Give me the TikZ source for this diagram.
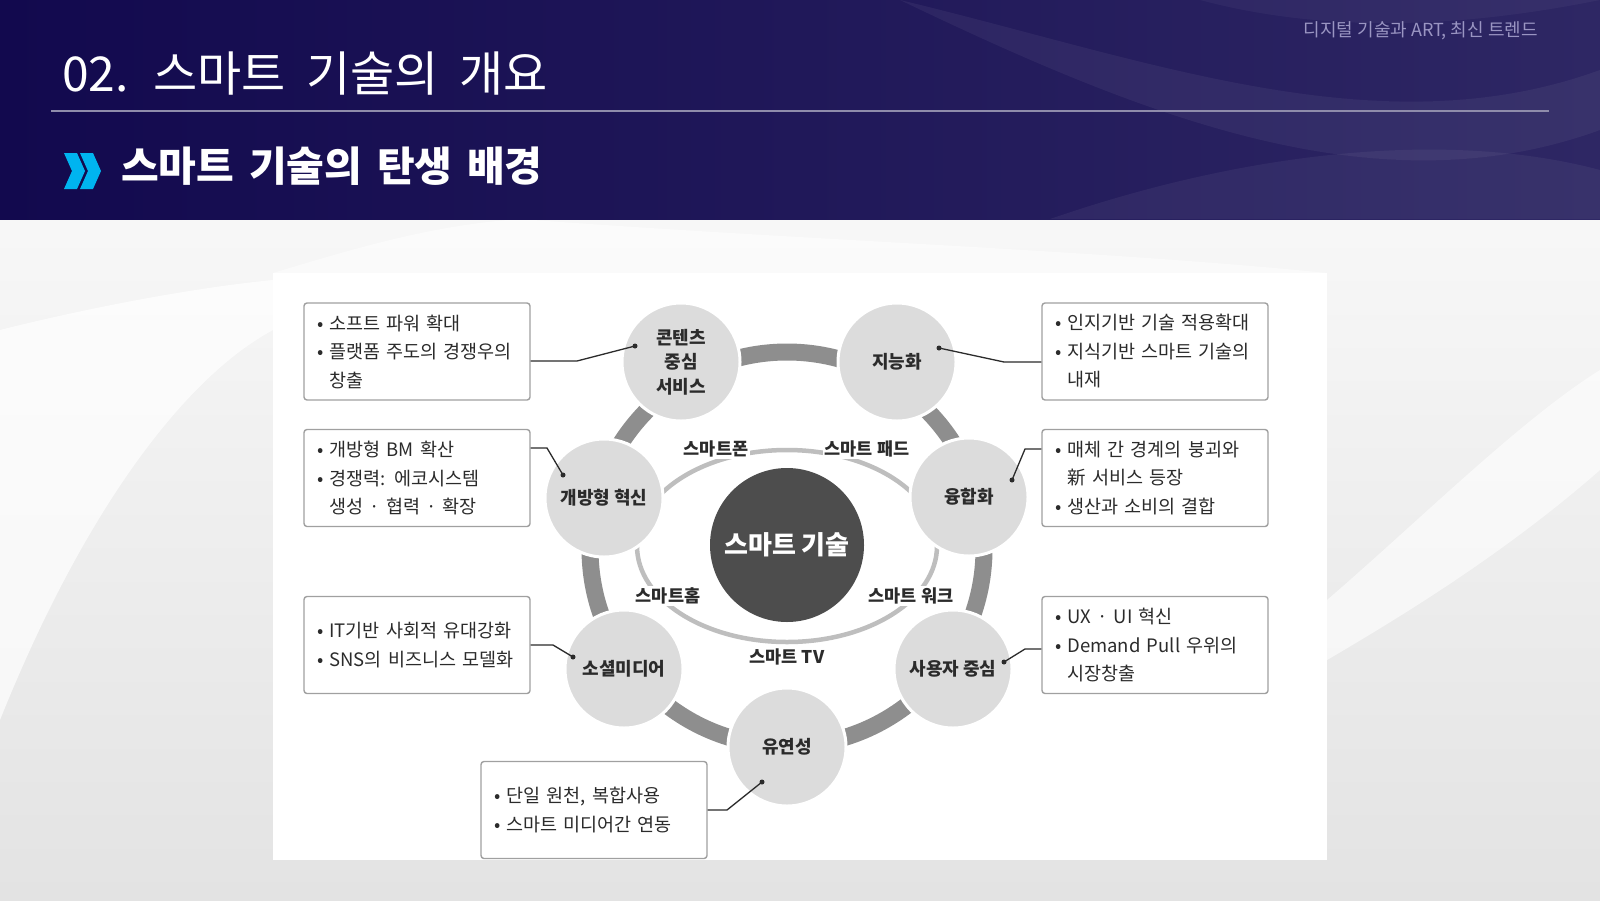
\documentclass[tikz,border=0pt]{standalone}
\usepackage{fontspec}
\setmainfont{Noto Sans CJK KR}
\definecolor{navy}{HTML}{12094E}
\definecolor{navyright}{HTML}{2E2764}
\definecolor{headline}{HTML}{8F8CAB}
\definecolor{tagline}{HTML}{9A95C2}
\definecolor{chevcyan}{HTML}{00B4F0}
\definecolor{ringgray}{HTML}{8E8E8E}
\definecolor{satgray}{HTML}{DCDCDC}
\definecolor{coregray}{HTML}{4D4D4D}
\definecolor{ovalgray}{HTML}{BEBEBE}
\definecolor{boxline}{HTML}{A0A0A0}
\definecolor{inktext}{HTML}{2B2B2B}
\newcommand{\itemdot}{•\ }
\newcommand{\itemgap}{\phantom{•\ }}
\newcommand{\widewords}[2]{{\spaceskip=#1\relax #2}}
\tikzset{
    every node/.style={inner sep=0pt, text=inktext}
}
\tikzset{
    satellite/.style={circle, fill=satgray, draw=white, line width=3pt,
        minimum size=118pt, align=center,
        font=\fontsize{18}{24.5}\selectfont\bfseries},
    core/.style={circle, fill=coregray, minimum size=154pt, text=white,
        font=\fontsize{26}{26}\selectfont\bfseries},
    media/.style={fill=white, inner sep=2pt,
        font=\fontsize{17.5}{20}\selectfont\bfseries},
    infobox/.style={draw=boxline, line width=1.4pt, rounded corners=3pt,
        fill=white, minimum height=97pt, inner xsep=13pt, text width=200pt,
        align=left, font=\fontsize{18.5}{28.5}\selectfont},
    leader/.style={draw=inktext, line width=1.3pt},
    leaderdot/.style={circle, fill=inktext, minimum size=5pt}
}
\begin{document}
\begin{tikzpicture}[x=1pt, y=-1pt]
	\useasboundingbox (0,0) rectangle (1600,900);
	\shade[top color=gray!6, bottom color=gray!22] (0,219) rectangle (1600,900);
	\fill[white, opacity=0.7] (0,330) .. controls (120,300) and (220,285) .. (273,280)
		-- (273,330) .. controls (180,380) and (80,520) .. (0,720) -- cycle;
	\fill[white, opacity=0.6] (1327,600) .. controls (1420,520) and (1520,420) .. (1600,370)
		-- (1600,470) .. controls (1520,540) and (1430,600) .. (1327,660) -- cycle;
	\fill[white, opacity=0.5] (520,219) .. controls (800,240) and (1100,250) .. (1327,273)
		-- (273,273) .. controls (350,250) and (430,225) .. (520,219) -- cycle;
	\shade[left color=navy, middle color=navy!85!navyright, right color=navyright]
		(0,0) rectangle (1600,219);
	\fill[white, opacity=0.05] (900,0) .. controls (1150,60) and (1380,150) .. (1600,70)
		-- (1600,130) .. controls (1380,210) and (1150,120) .. (900,0) -- cycle;
	\fill[white, opacity=0.05] (1050,219) .. controls (1250,150) and (1450,130) .. (1600,170)
		-- (1600,219) -- cycle;
	\fill[white, opacity=0.04] (1200,0) .. controls (1350,40) and (1500,20) .. (1600,0) -- cycle;
	\draw[headline, line width=1.5pt] (51,111) -- (1549,111);
	\node[anchor=west, text=white, font=\fontsize{48}{48}\selectfont] (title)
		at (62,74) {\widewords{0.43em}{02. 스마트 기술의 개요}};
	\node[anchor=east, text=tagline, font=\fontsize{18}{18}\selectfont] (tag) at (1538,31)
		{디지털 기술과 ART, 최신 트렌드};
	\fill[chevcyan] (64,153) -- (77,153) -- (85,171) -- (77,189) -- (64,189) -- (72,171) -- cycle;
	\fill[chevcyan] (80,153) -- (93,153) -- (101,171) -- (93,189) -- (80,189) -- (88,171) -- cycle;
	\node[anchor=west, text=white, font=\fontsize{41}{41}\selectfont\bfseries]
		(subtitle) at (121,166) {\widewords{0.36em}{스마트 기술의 탄생 배경}};
	\fill[white] (273,273) rectangle (1327,860);
	\coordinate (hub) at (787,549);
	\draw[ringgray, line width=17pt] (hub) circle[radius=197pt];
	\draw[ovalgray, line width=4.5pt] (787,546) ellipse[x radius=150pt, y radius=96pt];
	\node[core] (smart) at (787,545) {스마트 기술};
	\node[media] (phone) at (716,449) {스마트폰};
	\node[media] (pad) at (867,449) {스마트 패드};
	\node[media] (home) at (668,596) {스마트홈};
	\node[media] (work) at (911,596) {스마트 워크};
	\node[media] (tv) at (787,657) {스마트 TV};
	\node[satellite] (contents) at (681,362) {콘텐츠\\중심\\서비스};
	\node[satellite] (intel) at (897,362) {지능화};
	\node[satellite] (openinno) at (604,498) {개방형 혁신};
	\node[satellite] (converge) at (969,497) {융합화};
	\node[satellite] (social) at (624,669) {소셜미디어};
	\node[satellite] (usercent) at (953,669) {사용자 중심};
	\node[satellite] (flex) at (787,747) {유연성};
	\node[infobox] (b1) at (417,351.5) {\itemdot 소프트 파워 확대\\\itemdot 플랫폼 주도의 경쟁우의\\\itemgap 창출};
	\node[infobox] (b2) at (417,478) {\itemdot 개방형 BM 확산\\\itemdot 경쟁력: 에코시스템\\\itemgap 생성 · 협력 · 확장};
	\node[infobox] (b3) at (417,645) {\itemdot IT기반 사회적 유대강화\\\itemdot SNS의 비즈니스 모델화};
	\node[infobox] (b4) at (1155,351.5) {\itemdot 인지기반 기술 적용확대\\\itemdot 지식기반 스마트 기술의\\\itemgap 내재};
	\node[infobox] (b5) at (1155,478) {\itemdot 매체 간 경계의 붕괴와\\\itemgap 新 서비스 등장\\\itemdot 생산과 소비의 결합};
	\node[infobox] (b6) at (1155,645) {\itemdot UX · UI 혁신\\\itemdot Demand Pull 우위의\\\itemgap 시장창출};
	\node[infobox] (b7) at (594,810) {\itemdot 단일 원천, 복합사용\\\itemdot 스마트 미디어간 연동};
	\node[leaderdot] (tip1) at (635,346) {};
	\node[leaderdot] (tip2) at (563,475) {};
	\node[leaderdot] (tip3) at (573,657) {};
	\node[leaderdot] (tip4) at (939,348) {};
	\node[leaderdot] (tip5) at (1012,480) {};
	\node[leaderdot] (tip6) at (1004,662) {};
	\node[leaderdot] (tip7) at (762,782) {};
	\coordinate (bend1) at (577,361);
	\coordinate (bend2) at (547,448);
	\coordinate (bend3) at (553,645);
	\coordinate (bend4) at (1004,362);
	\coordinate (bend5) at (1025,449);
	\coordinate (bend6) at (1025,649);
	\coordinate (bend7) at (727,810);
	\draw[leader] (b1.east |- bend1) -- (bend1) -- (tip1.center);
	\draw[leader] (b2.east |- bend2) -- (bend2) -- (tip2.center);
	\draw[leader] (b3.east |- bend3) -- (bend3) -- (tip3.center);
	\draw[leader] (b4.west |- bend4) -- (bend4) -- (tip4.center);
	\draw[leader] (b5.west |- bend5) -- (bend5) -- (tip5.center);
	\draw[leader] (b6.west |- bend6) -- (bend6) -- (tip6.center);
	\draw[leader] (b7.east |- bend7) -- (bend7) -- (tip7.center);
\end{tikzpicture}
\end{document}
